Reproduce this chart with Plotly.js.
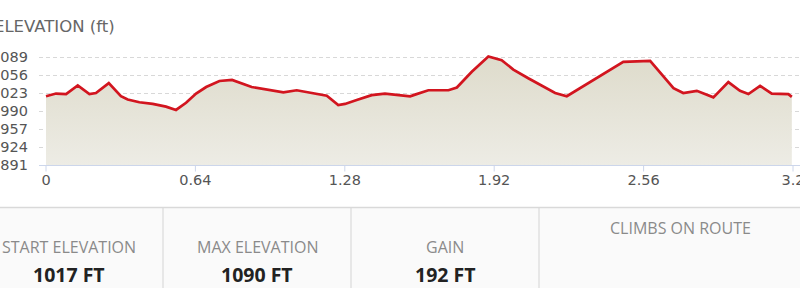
<!DOCTYPE html>
<html>
<head>
<meta charset="utf-8">
<script src="https://cdn.plot.ly/plotly-3.0.1.min.js"></script>
<style>
  html, body { margin: 0; padding: 0; background: #ffffff; overflow: hidden; }
  #chart { width: 800px; height: 288px; }
</style>
</head>
<body>
<div id="chart"></div>
<script>
// ---- data ----
const distance = [0, 0.043, 0.086, 0.136, 0.186, 0.214, 0.269, 0.321, 0.350, 0.400,
  0.457, 0.514, 0.557, 0.600, 0.643, 0.686, 0.743, 0.797, 0.881, 0.921,
  1.017, 1.074, 1.160, 1.203, 1.252, 1.281, 1.331, 1.395, 1.452, 1.503,
  1.560, 1.581, 1.638, 1.724, 1.760, 1.824, 1.895, 1.952, 2.002, 2.066,
  2.124, 2.181, 2.231, 2.295, 2.395, 2.473, 2.588, 2.623, 2.688, 2.730,
  2.788, 2.859, 2.923, 2.973, 3.009, 3.059, 3.109, 3.180, 3.195];
const elevation = [1017, 1022, 1021, 1037, 1021, 1023, 1041, 1017, 1011, 1006,
  1003, 998, 992, 1005, 1022, 1034, 1045, 1047, 1034, 1031,
  1024, 1028, 1022, 1018, 1001, 1003, 1010, 1019, 1022, 1019,
  1017, 1020, 1028, 1028, 1033, 1062, 1090, 1083, 1066, 1050,
  1036, 1023, 1017, 1034, 1060, 1080, 1082, 1065, 1032, 1023,
  1027, 1015, 1043, 1027, 1021, 1036, 1022, 1021, 1016];
const xTickVals = [0, 0.64, 1.28, 1.92, 2.56, 3.2];
const xTickText = ["0", "0.64", "1.28", "1.92", "2.56", "3.2"];
const yTickVals = [891, 924, 957, 990, 1023, 1056, 1089];
const yTickText = ["891", "924", "957", "990", "1023", "1056", "1089"];
const chartTitle = "ELEVATION (ft)";
const statLabels = ["START ELEVATION", "MAX ELEVATION", "GAIN", "CLIMBS ON ROUTE"];
const statValues = ["1017 FT", "1090 FT", "192 FT", ""];

// ---- layout geometry (pixels) ----
const W = 800, H = 288;
const M = { l: 39, r: 0, t: 45, b: 123 };
const plotW = W - M.l - M.r, plotH = H - M.t - M.b;
const px = x => (x - M.l) / plotW;          // page x -> paper x
const py = y => (H - M.b - y) / plotH;      // page y -> paper y

const cellEdges = [-25, 163, 351, 539, 821];
const shapes = [];
const annotations = [];

// x-axis tick marks (drawn as shapes so the labels can sit close to the axis)
xTickVals.forEach(v => {
  shapes.push({ type: 'line', xref: 'x', yref: 'paper', x0: v, x1: v, y0: 0, y1: py(171.5),
    line: { color: '#ccd6eb', width: 1 } });
});

// stats panel background + top border
shapes.push({ type: 'rect', xref: 'paper', yref: 'paper', x0: px(-5), x1: px(805), y0: py(207), y1: py(295),
  fillcolor: '#fafafa', line: { width: 0 }, layer: 'below' });
shapes.push({ type: 'line', xref: 'paper', yref: 'paper', x0: px(-5), x1: px(805), y0: py(207.5), y1: py(207.5),
  line: { color: '#d9d9d9', width: 1.5 } });
for (let i = 1; i < cellEdges.length - 1; i++) {
  shapes.push({ type: 'line', xref: 'paper', yref: 'paper', x0: px(cellEdges[i]), x1: px(cellEdges[i]),
    y0: py(208), y1: py(295), line: { color: '#d4d4d4', width: 1 } });
}
for (let i = 0; i < statLabels.length; i++) {
  const cx = (cellEdges[i] + cellEdges[i + 1]) / 2;
  const hasValue = statValues[i] !== "";
  annotations.push({ xref: 'paper', yref: 'paper', x: px(cx), y: py(hasValue ? 247 : 228),
    xanchor: 'center', yanchor: 'middle', showarrow: false, text: statLabels[i],
    font: { family: 'Open Sans', size: 16, color: '#8a8a8a' } });
  if (hasValue) {
    annotations.push({ xref: 'paper', yref: 'paper', x: px(cx), y: py(274.5),
      xanchor: 'center', yanchor: 'middle', showarrow: false, text: statValues[i],
      font: { family: 'Open Sans', size: 19.5, color: '#222222', weight: 700 } });
  }
}
// chart title (cut at the left edge as in the reference)
annotations.push({ xref: 'paper', yref: 'paper', x: px(-8.5), y: py(26.5), xanchor: 'left', yanchor: 'middle',
  showarrow: false, text: chartTitle, font: { family: 'DejaVu Sans', size: 16.5, color: '#666666' } });

const trace = {
  type: 'scatter', mode: 'lines', x: distance, y: elevation,
  line: { color: '#d2151f', width: 2.7, shape: 'linear' },
  fill: 'tozeroy',
  fillgradient: { type: 'vertical', start: 891, stop: 1090,
    colorscale: [[0, '#edece5'], [1, '#dedbcb']] },
  hoverinfo: 'skip'
};

const layout = {
  width: W, height: H,
  margin: M,
  paper_bgcolor: '#ffffff', plot_bgcolor: 'rgba(0,0,0,0)',
  showlegend: false,
  xaxis: {
    range: [-7 / 233.44, 3.2 + 7 / 233.44],
    tickvals: xTickVals, ticktext: xTickText,
    showgrid: false, zeroline: false,
    showline: true, linecolor: '#ccd6eb', linewidth: 1,
    ticks: 'outside', ticklen: 2, tickcolor: 'rgba(0,0,0,0)', tickwidth: 1,
    ticklabeloverflow: 'allow',
    tickfont: { family: 'DejaVu Sans', size: 14.5, color: '#555555' }
  },
  yaxis: {
    range: [891, 1111],
    tickvals: yTickVals, ticktext: yTickText,
    showgrid: true, gridcolor: '#d8d8d8', gridwidth: 1, griddash: '4px,3px',
    zeroline: false, showline: false, ticks: '',
    ticklabelstandoff: 10,
    ticklabeloverflow: 'allow',
    tickfont: { family: 'DejaVu Sans', size: 14.5, color: '#555555' }
  },
  shapes: shapes,
  annotations: annotations
};

Plotly.newPlot('chart', [trace], layout, { staticPlot: true, displayModeBar: false });
</script>
</body>
</html>
